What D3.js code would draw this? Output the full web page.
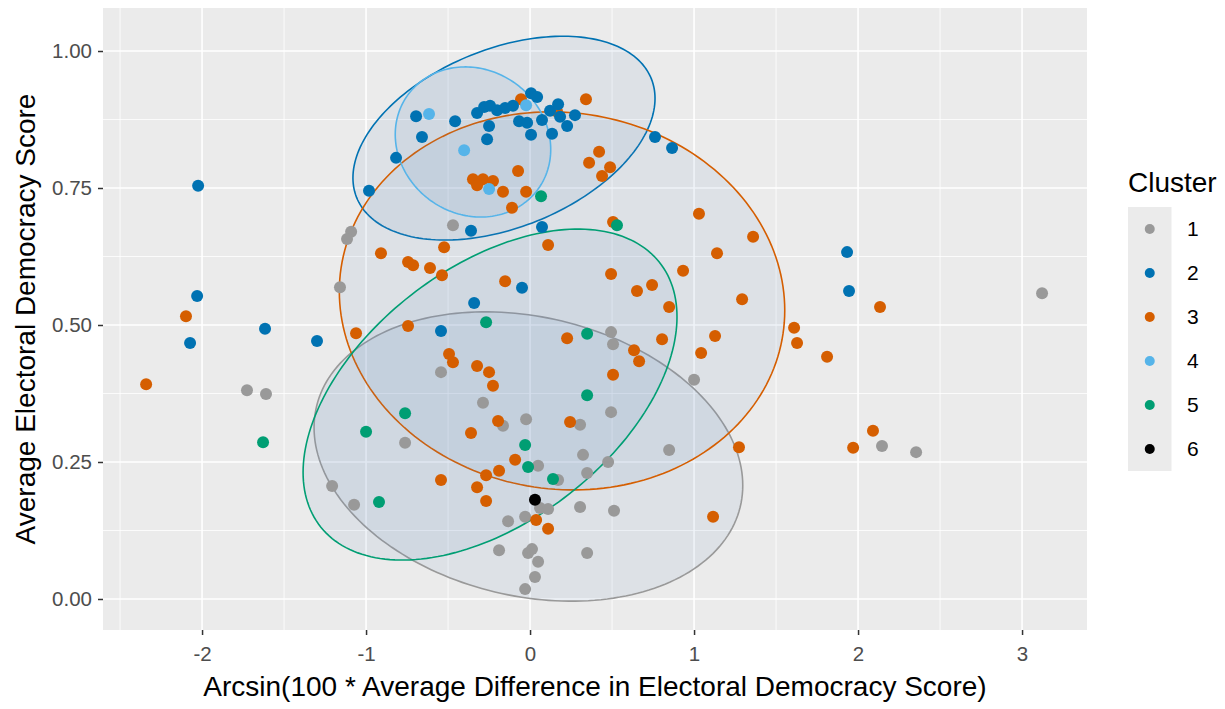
<!DOCTYPE html>
<html>
<head>
<meta charset="utf-8">
<script src="https://cdn.jsdelivr.net/npm/d3@7"></script>
<style>
  html, body { margin: 0; padding: 0; background: #ffffff; }
  svg { display: block; font-family: "Liberation Sans", Arial, sans-serif; }
</style>
</head>
<body>
<svg id="chart" width="1225" height="709"></svg>
<script>
// ---- data -------------------------------------------------------------
const clusters = ["1", "2", "3", "4", "5", "6"];

const xTicks = [-2, -1, 0, 1, 2, 3];
const xTickLabels = ["-2", "-1", "0", "1", "2", "3"];
const yTicks = [0, 0.25, 0.5, 0.75, 1];
const yTickLabels = ["0.00", "0.25", "0.50", "0.75", "1.00"];

const xTitle = "Arcsin(100 * Average Difference in Electoral Democracy Score)";
const yTitle = "Average Electoral Democracy Score";
const legendTitle = "Cluster";

// [arcsin difference, average electoral democracy score]
const cluster1 = [
  [-0.470, 0.682], [-1.091, 0.670], [-1.116, 0.657], [-1.159, 0.569], [-1.726, 0.381],
  [-1.610, 0.374], [-0.543, 0.414], [-0.287, 0.358], [-0.165, 0.316], [-0.024, 0.328],
  [0.305, 0.318], [0.494, 0.487], [0.506, 0.465], [0.494, 0.341], [-0.762, 0.285],
  [-1.207, 0.206], [-1.073, 0.172], [0.049, 0.243], [0.171, 0.217], [0.323, 0.263],
  [0.476, 0.250], [0.348, 0.230], [0.061, 0.166], [0.110, 0.164], [0.305, 0.168],
  [0.512, 0.161], [-0.134, 0.142], [-0.030, 0.150], [-0.189, 0.089], [-0.012, 0.084],
  [0.012, 0.091], [0.049, 0.068], [0.030, 0.040], [-0.030, 0.018], [0.348, 0.084],
  [1.000, 0.400], [0.848, 0.272], [2.146, 0.279], [2.354, 0.268], [3.122, 0.558]
];
const cluster2 = [
  [0.006, 0.923], [0.043, 0.916], [-0.695, 0.881], [-0.457, 0.872], [-0.323, 0.887],
  [-0.280, 0.898], [-0.244, 0.900], [-0.201, 0.892], [-0.152, 0.896], [-0.104, 0.900],
  [-0.250, 0.863], [-0.262, 0.839], [-0.067, 0.872], [-0.018, 0.869], [0.006, 0.847],
  [0.073, 0.874], [0.122, 0.891], [0.171, 0.903], [0.183, 0.880], [0.226, 0.863],
  [0.274, 0.883], [0.134, 0.849], [-0.659, 0.843], [-0.817, 0.805], [-0.982, 0.745],
  [0.762, 0.843], [0.866, 0.823], [-0.360, 0.672], [0.073, 0.679], [-2.024, 0.754],
  [-2.030, 0.553], [-2.073, 0.467], [-1.616, 0.493], [-1.299, 0.471], [-0.543, 0.489],
  [-0.341, 0.540], [-0.049, 0.568], [1.933, 0.633], [1.945, 0.562]
];
const cluster3 = [
  [-2.341, 0.392], [-2.098, 0.516], [-1.061, 0.485], [-0.909, 0.631], [-0.744, 0.615],
  [-0.713, 0.609], [-0.610, 0.604], [-0.537, 0.591], [-0.524, 0.642], [-0.744, 0.498],
  [-0.494, 0.447], [-0.470, 0.432], [-0.323, 0.425], [-0.250, 0.414], [-0.226, 0.389],
  [-0.195, 0.325], [-0.360, 0.303], [-0.543, 0.217], [-0.268, 0.226], [-0.189, 0.234],
  [-0.323, 0.204], [-0.268, 0.179], [-0.091, 0.254], [0.037, 0.144], [0.110, 0.128],
  [0.244, 0.323], [0.226, 0.476], [0.506, 0.409], [-0.152, 0.580], [0.110, 0.646],
  [-0.110, 0.714], [0.506, 0.688], [1.030, 0.703], [1.360, 0.661], [1.140, 0.631],
  [0.933, 0.599], [0.494, 0.593], [0.744, 0.573], [0.652, 0.562], [1.293, 0.547],
  [0.848, 0.533], [0.805, 0.474], [1.128, 0.480], [0.634, 0.454], [0.665, 0.434],
  [1.043, 0.449], [1.274, 0.277], [1.116, 0.150], [1.610, 0.495], [1.628, 0.467],
  [1.811, 0.442], [2.134, 0.533], [2.091, 0.307], [1.970, 0.276], [0.341, 0.912],
  [0.421, 0.816], [0.360, 0.796], [0.488, 0.788], [0.439, 0.772], [-0.073, 0.781],
  [-0.348, 0.766], [-0.287, 0.766], [-0.226, 0.763], [-0.323, 0.755], [-0.165, 0.743],
  [-0.024, 0.743], [-0.055, 0.912], [0.165, 0.889]
];
const cluster4 = [
  [-0.616, 0.885], [-0.024, 0.901], [-0.402, 0.819], [-0.250, 0.748]
];
const cluster5 = [
  [0.067, 0.735], [0.530, 0.682], [-0.268, 0.505], [0.348, 0.484], [0.348, 0.372],
  [-0.762, 0.339], [-1.000, 0.305], [-0.030, 0.281], [-0.012, 0.241], [0.140, 0.219],
  [-0.921, 0.177], [-1.628, 0.286]
];
const cluster6 = [
  [0.030, 0.181]
];

// Ellipse per cluster: centre, half extent along x and y, and x/y correlation
const ellipseCluster = ["1", "2", "3", "4", "5"];
const ellipseCx = [-0.010, -0.159, 0.195, -0.348, -0.244];
const ellipseCy = [0.260, 0.841, 0.544, 0.834, 0.373];
const ellipseSx = [1.307, 0.921, 1.358, 0.474, 1.140];
const ellipseSy = [0.264, 0.186, 0.345, 0.137, 0.302];
const ellipseR  = [-0.20, 0.39, -0.05, -0.10, 0.47];

// ---- styling ----------------------------------------------------------
const palette = ["#999999", "#0072B2", "#D55E00", "#56B4E9", "#009E73", "#000000"];
const color = d3.scaleOrdinal().domain(clusters).range(palette);

const panel = { left: 103, right: 1087, top: 8, bottom: 630 };

const x = d3.scaleLinear().domain([-2.604, 3.396]).range([panel.left, panel.right]);
const y = d3.scaleLinear().domain([-0.0566, 1.0785]).range([panel.bottom, panel.top]);

const svg = d3.select("#chart");

// panel background
svg.append("rect")
  .attr("x", panel.left).attr("y", panel.top)
  .attr("width", panel.right - panel.left).attr("height", panel.bottom - panel.top)
  .attr("fill", "#EBEBEB");

const clipId = "panel-clip";
svg.append("clipPath").attr("id", clipId).append("rect")
  .attr("x", panel.left).attr("y", panel.top)
  .attr("width", panel.right - panel.left).attr("height", panel.bottom - panel.top);

const grid = svg.append("g").attr("clip-path", `url(#${clipId})`);

// minor grid lines at the midpoints between major ticks
const xMinor = d3.range(-2.5, 3.6, 1);
const yMinor = d3.range(0.125, 1.1, 0.25);
grid.selectAll("line.xminor").data(xMinor).join("line")
  .attr("x1", d => x(d)).attr("x2", d => x(d))
  .attr("y1", panel.top).attr("y2", panel.bottom)
  .attr("stroke", "#ffffff").attr("stroke-width", 0.8);
grid.selectAll("line.yminor").data(yMinor).join("line")
  .attr("y1", d => y(d)).attr("y2", d => y(d))
  .attr("x1", panel.left).attr("x2", panel.right)
  .attr("stroke", "#ffffff").attr("stroke-width", 0.8);
// major grid lines
grid.selectAll("line.xmajor").data(xTicks).join("line")
  .attr("x1", d => x(d)).attr("x2", d => x(d))
  .attr("y1", panel.top).attr("y2", panel.bottom)
  .attr("stroke", "#ffffff").attr("stroke-width", 1.6);
grid.selectAll("line.ymajor").data(yTicks).join("line")
  .attr("y1", d => y(d)).attr("y2", d => y(d))
  .attr("x1", panel.left).attr("x2", panel.right)
  .attr("stroke", "#ffffff").attr("stroke-width", 1.6);

// ---- ellipses ---------------------------------------------------------
const ellipses = ellipseCluster.map((c, i) => {
  const delta = Math.acos(ellipseR[i]);
  const pts = d3.range(0, 200).map(k => {
    const t = (k / 200) * 2 * Math.PI;
    return [ellipseCx[i] + ellipseSx[i] * Math.cos(t),
            ellipseCy[i] + ellipseSy[i] * Math.cos(t + delta)];
  });
  return { cluster: c, pts };
});

const ellipseLine = d3.line().x(d => x(d[0])).y(d => y(d[1])).curve(d3.curveLinearClosed);

const plot = svg.append("g").attr("clip-path", `url(#${clipId})`);
plot.selectAll("path.ellipse").data(ellipses).join("path")
  .attr("class", "ellipse")
  .attr("d", d => ellipseLine(d.pts))
  .attr("fill", "#5F8DB8").attr("fill-opacity", 0.1)
  .attr("stroke", d => color(d.cluster)).attr("stroke-width", 1.6);

// ---- points -----------------------------------------------------------
const series = [cluster1, cluster3, cluster2, cluster4, cluster5, cluster6];
const seriesCluster = ["1", "3", "2", "4", "5", "6"];
series.forEach((pts, i) => {
  plot.append("g").selectAll("circle").data(pts).join("circle")
    .attr("cx", d => x(d[0])).attr("cy", d => y(d[1]))
    .attr("r", 6)
    .attr("fill", color(seriesCluster[i]));
});

// ---- axes -------------------------------------------------------------
const xAxis = svg.append("g").attr("transform", `translate(0,${panel.bottom})`)
  .call(d3.axisBottom(x).tickValues(xTicks).tickFormat((d, i) => xTickLabels[i]).tickSize(5).tickPadding(11));
const yAxis = svg.append("g").attr("transform", `translate(${panel.left},0)`)
  .call(d3.axisLeft(y).tickValues(yTicks).tickFormat((d, i) => yTickLabels[i]).tickSize(5).tickPadding(6));
[xAxis, yAxis].forEach(g => {
  g.select(".domain").remove();
  g.selectAll(".tick line").attr("stroke", "#333333").attr("stroke-width", 1.5);
  g.selectAll(".tick text").attr("fill", "#4D4D4D")
    .style("font-size", "20.5px").style("font-family", "'Liberation Sans', Arial, sans-serif");
});

svg.append("text")
  .attr("x", (panel.left + panel.right) / 2).attr("y", 696)
  .attr("text-anchor", "middle").attr("fill", "#000")
  .style("font-size", "28px")
  .text(xTitle);

svg.append("text")
  .attr("transform", `translate(35,${(panel.top + panel.bottom) / 2}) rotate(-90)`)
  .attr("text-anchor", "middle").attr("fill", "#000")
  .style("font-size", "28px")
  .text(yTitle);

// ---- legend -----------------------------------------------------------
const legend = svg.append("g").attr("transform", "translate(1128,0)");
legend.append("text").attr("x", 0).attr("y", 192)
  .attr("fill", "#000").style("font-size", "28px").text(legendTitle);
const keyH = 44, keyW = 43.5, keyTop = 207;
const keys = legend.selectAll("g.key").data(clusters).join("g")
  .attr("transform", (d, i) => `translate(0,${keyTop + i * keyH})`);
keys.append("rect").attr("width", keyW).attr("height", keyH).attr("fill", "#EBEBEB");
keys.append("circle").attr("cx", keyW / 2).attr("cy", keyH / 2).attr("r", 5)
  .attr("fill", d => color(d));
keys.append("text").attr("x", 59).attr("y", keyH / 2).attr("dy", "0.35em")
  .attr("fill", "#000").style("font-size", "21px").text(d => d);
</script>
</body>
</html>
